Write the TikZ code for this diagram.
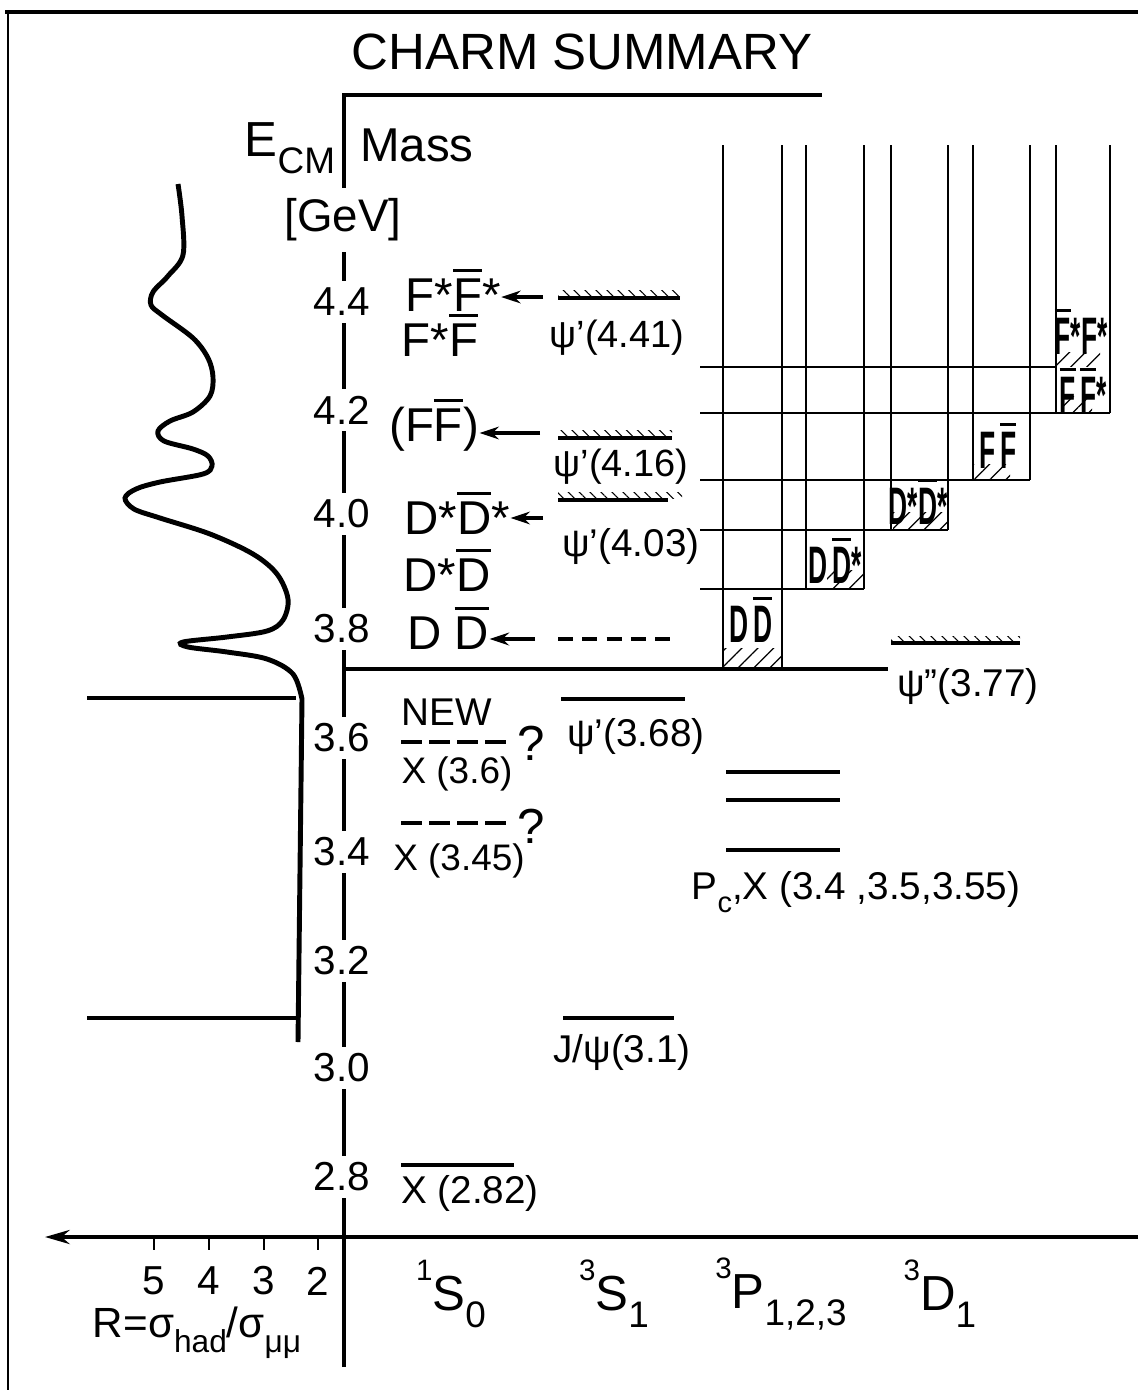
\documentclass[tikz,border=0pt]{standalone}
\usepackage{fontspec}
\setmainfont{Liberation Sans}
\usepackage{graphicx}
\usetikzlibrary{arrows.meta,patterns.meta}

\newcommand{\var}{
\def\xax{344}   % energy axis
\def\xl{700}    % left end of the threshold lines
\def\ytop{145}  % top of the threshold columns
\def\yr{1237}   % R axis
}
\newcommand{\scl}{0.01cm}
\newcommand{\fs}[1]{\fontsize{#1}{#1}\selectfont}
\newcommand{\ovl}[1]{\leavevmode\vbox{\hrule height 0.9pt\kern 1.8pt\hbox{#1}}}
\newcommand{\up}[1]{\raisebox{0.6em}{\scalebox{0.6}{#1}}}
\newcommand{\lo}[1]{\raisebox{-0.35em}{\scalebox{0.75}{#1}}}
\newcommand{\nrw}[1]{\scalebox{0.5}[1]{\bfseries #1}}

\begin{document}
\begin{tikzpicture}[x=\scl,y=-\scl,
  lvl/.style={line width=1.1pt},
  colline/.style={line width=0.5pt},
  hatchup/.style={pattern={Lines[angle=-45,distance=2.2pt,line width=0.3pt]}},
  hatchbox/.style={pattern={Lines[angle=45,distance=3.2pt,line width=0.35pt]}},
  arr/.style={line width=1.2pt,-{Stealth[length=5.5pt,width=3.6pt]}},
  lab/.style={inner sep=0pt},
  ticklab/.style={inner xsep=1pt,inner ysep=2pt,fill=white,font=\fs{11.5pt}}]
  \var
  \path[fill=white] (0,0) rectangle (1138,1390);
  \useasboundingbox (0,0) rectangle (1138,1390);

  % frame
  \draw[line width=0.9pt] (5,12) -- (1138,12);
  \draw[line width=0.6pt] (8,12) -- (8,1390);

  % axes
  \draw[line width=1pt] (\xax,1367) -- (\xax,95) -- (822,95);
  \draw[line width=1.2pt] (\xax,669) -- (888,669);
  \draw[line width=1.1pt,-{Stealth[length=7pt,width=4pt]}] (1138,\yr) -- (45,\yr);
  \foreach \x/\r in {154/5,209/4,264/3,318/2} {
    \draw[line width=0.8pt] (\x,\yr) -- (\x,1250);
    \node[lab,font=\fs{11.5pt}] (r\r) at (\x,1281) {\r};
  }

  % R curve
  \draw[line width=1.4pt] plot[smooth,tension=0.55] coordinates {(178,184) (182,216) (183,255)
    (168,276) (153,292) (151,305) (162,315) (193,338) (208,358) (213,377) (210,396) (193,412)
    (170,421) (158,431) (164,441) (193,449) (208,456) (212,466) (203,474) (160,482) (136,489)
    (125,498) (134,509) (160,518) (210,534) (253,554) (277,574) (288,599) (283,620) (267,631)
    (227,637) (183,642) (188,647) (227,652) (267,659) (293,674) (302,699)} -- (298,1042);
  \draw[lvl] (87,698) -- (296,698);
  \draw[lvl] (87,1018) -- (296,1018);

  % threshold columns
  \foreach \a/\b/\yb in {723/782/669, 806/864/589, 891/948/530, 973/1030/480, 1056/1110/413} {
    \draw[colline] (\a,\ytop) -- (\a,\yb);
    \draw[colline] (\b,\ytop) -- (\b,\yb);
  }
  \foreach \y/\xr in {589/864, 530/948, 480/1030, 413/1110, 367/1056}
    \draw[colline] (\xl,\y) -- (\xr,\y);
  \foreach \a/\b/\c/\d in {723/648/781/667, 827/570/864/588, 893/512/947/529,
      973/464/1010/479, 1062/396/1092/412, 1057/352/1100/366}
    \path[hatchbox] (\a,\b) rectangle (\c,\d);

  % levels
  \draw[lvl] (558,298) -- (680,298);
  \path[hatchup] (558,290) rectangle (680,296);
  \draw[lvl] (558,438) -- (672,438);
  \path[hatchup] (558,430) rectangle (672,436);
  \draw[lvl] (558,500) -- (668,500);
  \path[hatchup] (558,492) rectangle (682,498);
  \draw[lvl] (891,643) -- (1020,643);
  \path[hatchup] (891,636) rectangle (1020,641);
  \draw[lvl,dash pattern=on 4.3pt off 2.6pt] (558,639) -- (678,639);
  \draw[lvl] (561,699) -- (685,699);
  \draw[lvl] (563,1018) -- (674,1018);
  \draw[lvl] (401,1165) -- (514,1165);
  \draw[lvl,dash pattern=on 6pt off 2pt] (401,742) -- (506,742);
  \draw[lvl,dash pattern=on 6pt off 2pt] (401,823) -- (506,823);
  \foreach \y in {772,800,850}
    \draw[lvl] (726,\y) -- (840,\y);

  % mass scale
  \foreach \e/\y [count=\i] in {4.4/302,4.2/410,4.0/514,3.8/629,3.6/738,3.4/852,3.2/961,3.0/1068,2.8/1177}
    \node[ticklab] (tk\i) at (342,\y) {\e};

  % titles
  \node[lab,font=\fs{14.5pt}] (title) at (582,52) {CHARM SUMMARY};
  \node[lab,font=\fs{14pt}] (ecm) at (290,148) {E\lo{CM}};
  \node[lab,font=\fs{13.5pt}] (mass) at (417,145) {Mass};
  \node[lab,fill=white,inner ysep=3pt,font=\fs{13pt}] (gev) at (343,220) {[GeV]};

  % final states
  \node[lab,font=\fs{13.5pt}] (fsfs) at (453,290) {F*\ovl{F}*};
  \node[lab,font=\fs{13.5pt}] (fsf) at (440,335) {F*\ovl{F}};
  \node[lab,font=\fs{13.5pt}] (ff) at (434,425) {(F\ovl{F})};
  \node[lab,font=\fs{13.5pt}] (dsds) at (457,513) {D*\ovl{D}*};
  \node[lab,font=\fs{13.5pt}] (dsd) at (447,570) {D*\ovl{D}};
  \node[lab,font=\fs{13.5pt}] (dd) at (448,628) {D \ovl{D}};
  \coordinate (a441) at (543,297);
  \coordinate (a416) at (540,433);
  \coordinate (a403) at (543,518);
  \coordinate (a38) at (535,639);
  \draw[arr] (a441) -- (a441 -| fsfs.east);
  \draw[arr] (a416) -- (a416 -| ff.east);
  \draw[arr] (a403) -- (a403 -| dsds.east);
  \draw[arr] (a38) -- (a38 -| dd.east);

  % states
  \node[lab,font=\fs{10.8pt}] (p441) at (617,338) {ψ'(4.41)};
  \node[lab,font=\fs{10.8pt}] (p416) at (621,467) {ψ'(4.16)};
  \node[lab,font=\fs{11pt}] (p403) at (631,546) {ψ'(4.03)};
  \node[lab,font=\fs{11pt}] (p368) at (636,736) {ψ'(3.68)};
  \node[lab,font=\fs{11pt}] (jpsi) at (622,1052) {J/ψ(3.1)};
  \node[lab,font=\fs{11pt}] (p377) at (968,686) {ψ''(3.77)};
  \node[lab,font=\fs{11pt}] (new) at (447,712) {NEW};
  \node[lab,font=\fs{10.5pt}] (x36) at (457,774) {X (3.6)};
  \node[lab,font=\fs{10.5pt}] (x345) at (459,861) {X (3.45)};
  \node[lab,font=\fs{11pt}] (x282) at (470,1193) {X (2.82)};
  \node[lab,font=\fs{14pt}] (q1) at (531,743) {?};
  \node[lab,font=\fs{14pt}] (q2) at (531,826) {?};
  \node[lab,font=\fs{11pt}] (pc) at (856,892) {P\lo{c},X (3.4 ,3.5,3.55)};

  % thresholds
  \node[lab,font=\fs{15pt}] (bdd) at (751,620) {\nrw{D\,\ovl{D}}};
  \node[lab,font=\fs{15pt}] (bdds) at (835,561) {\nrw{D\,\ovl{D}*}};
  \node[lab,font=\fs{15pt}] (bdsds) at (918,502) {\nrw{D*\ovl{D}*}};
  \node[lab,font=\fs{15pt}] (bff) at (998,446) {\nrw{F\,\ovl{F}}};
  \node[lab,font=\fs{15pt}] (bffs) at (1083,391) {\nrw{\ovl{F}\,\ovl{F}*}};
  \node[lab,font=\fs{15pt}] (bfsfs) at (1081,332) {\nrw{\ovl{F}*F*}};

  % spectroscopic terms
  \node[lab,font=\fs{14pt}] (s0) at (451,1294) {\up{1}S\lo{0}};
  \node[lab,font=\fs{14pt}] (s1) at (614,1294) {\up{3}S\lo{1}};
  \node[lab,font=\fs{14pt}] (p123) at (781,1294) {\up{3}P\lo{1,2,3}};
  \node[lab,font=\fs{14pt}] (d1) at (940,1294) {\up{3}D\lo{1}};
  \node[lab,font=\fs{12pt}] (rlab) at (197,1333) {R=σ\lo{had}/σ\lo{μμ}};
\end{tikzpicture}
\end{document}
